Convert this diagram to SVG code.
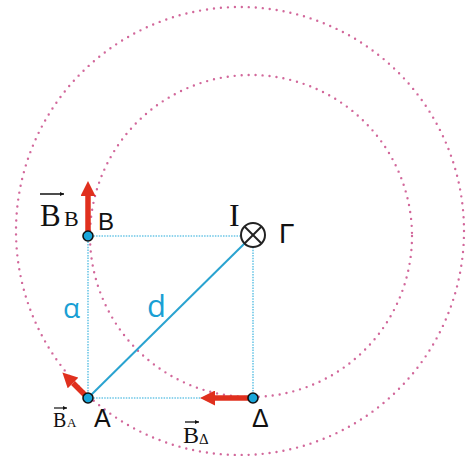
<svg xmlns="http://www.w3.org/2000/svg" width="468" height="456" viewBox="0 0 468 456">
<style>
.field{fill:none;stroke:#d2689b;stroke-width:2.4;stroke-linecap:round;stroke-dasharray:0 7}
.dot{fill:none;stroke:#6cc6e6;stroke-width:1.6;stroke-dasharray:1.5 1.2}
.diag{stroke:#2aa3d0;stroke-width:2}
.vec{stroke:#e0301e;stroke-width:5.5;fill:none}
.pt{fill:#19a6da;stroke:#111;stroke-width:1.6}
.sans{font-family:"Liberation Sans",Arial,sans-serif;fill:#111}
.serif{font-family:"Liberation Serif","Times New Roman",serif;fill:#111}
.blue{font-family:"Open Sans","Liberation Sans",sans-serif;fill:#1a9fd4}
</style>
<defs>
<marker id="ah" viewBox="0 0 10 10" refX="0" refY="5" markerWidth="16" markerHeight="15" markerUnits="userSpaceOnUse" orient="auto">
<path d="M0,0 L10,5 L0,10 Z" fill="#e0301e"/>
</marker>
<marker id="va" viewBox="0 0 10 10" refX="10" refY="5" markerWidth="4" markerHeight="4" markerUnits="userSpaceOnUse" orient="auto">
<path d="M0,0 L10,5 L0,10 Z" fill="#111"/>
</marker>
</defs>
<rect width="468" height="456" fill="#fff"/>
<g id="fieldlines">
<circle class="field" cx="240" cy="231" r="224"/>
<circle class="field" cx="251" cy="236" r="161"/>
</g>
<g id="connectors">
<line class="dot" x1="88" y1="236" x2="241" y2="236"/>
<line class="dot" x1="253" y1="247" x2="253" y2="398"/>
<line class="dot" x1="88" y1="398" x2="253" y2="398"/>
<line class="dot" x1="88" y1="236" x2="88" y2="398"/>
<line class="diag" x1="88" y1="398" x2="245" y2="243"/>
<line class="vec" x1="88" y1="236" x2="88" y2="196" marker-end="url(#ah)"/>
<line class="vec" x1="88" y1="398" x2="73" y2="383" marker-end="url(#ah)"/>
<line class="vec" x1="253" y1="398" x2="215" y2="398" marker-end="url(#ah)"/>
</g>
<g id="node-B">
<circle class="pt" cx="88" cy="236" r="5"/>
<text class="sans" x="98" y="230" font-size="24">B</text>
<line x1="40" y1="194" x2="64" y2="194" stroke="#111" stroke-width="1.5" marker-end="url(#va)"/>
<text class="serif" x="40" y="226" font-size="31">B</text>
<text class="serif" x="64" y="226" font-size="22">B</text>
</g>
<g id="node-G">
<circle cx="253" cy="235" r="12" fill="#fff" stroke="#222" stroke-width="2"/>
<line x1="244.5" y1="226.5" x2="261.5" y2="243.5" stroke="#222" stroke-width="2"/>
<line x1="261.5" y1="226.5" x2="244.5" y2="243.5" stroke="#222" stroke-width="2"/>
<text class="serif" x="229" y="226" font-size="32">I</text>
<text class="sans" x="279" y="243" font-size="28">Γ</text>
</g>
<g id="node-A">
<circle class="pt" cx="88" cy="398" r="5"/>
<text class="sans" x="94" y="427" font-size="25">A</text>
<line x1="54" y1="408" x2="67" y2="408" stroke="#111" stroke-width="1.2" marker-end="url(#va)"/>
<text class="serif" x="53" y="427" font-size="20">B</text>
<text class="serif" x="67" y="427" font-size="13">A</text>
</g>
<g id="node-D">
<circle class="pt" cx="253" cy="398" r="5"/>
<text class="sans" x="252" y="427" font-size="25">Δ</text>
<line x1="185" y1="422" x2="199" y2="422" stroke="#111" stroke-width="1.3" marker-end="url(#va)"/>
<text class="serif" x="183" y="443" font-size="24">B</text>
<text class="serif" x="199" y="444" font-size="15">Δ</text>
</g>
<g id="labels">
<text class="blue" x="63" y="318" font-size="28">α</text>
<text class="blue" x="147" y="317" font-size="31">d</text>
</g>
</svg>
